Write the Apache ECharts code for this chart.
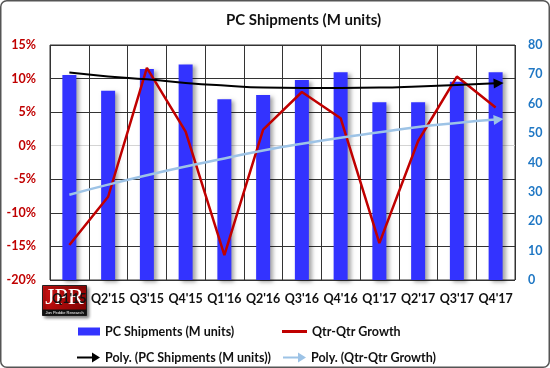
<!DOCTYPE html>
<html>
<head>
<meta charset="utf-8">
<script src="https://cdn.jsdelivr.net/npm/echarts@6/dist/echarts.min.js"></script>
<style>
html,body{margin:0;padding:0;background:#fff;}
#c{width:550px;height:368px;}
</style>
</head>
<body>
<div id="c"></div>
<script>
const categories = ["Q1'15", "Q2'15", "Q3'15", "Q4'15", "Q1'16", "Q2'16", "Q3'16", "Q4'16", "Q1'17", "Q2'17", "Q3'17", "Q4'17"];
const shipments = [69.8, 64.4, 71.8, 73.4, 61.5, 63.0, 68.1, 70.7, 60.5, 60.5, 67.5, 70.7];
const growth = [-14.8, -7.6, 11.6, 2.1, -16.3, 2.4, 8.0, 4.1, -14.5, 0.7, 10.3, 5.7];
const shipTrend = [70.6, 69.3, 68.3, 67.1, 66.2, 65.5, 65.4, 65.4, 65.5, 65.9, 66.4, 67.0];
const growthTrend = [-7.3, -5.8, -4.4, -3.1, -1.9, -0.7, 0.3, 1.2, 2.0, 2.8, 3.4, 3.9];
const leftTicks = {min: -20, max: 15, interval: 5};
const rightTicks = {min: 0, max: 80, interval: 10};

const FONT = 'Lato';
const arrowIcon = 'path://M0,4L15,4L15,0L23,5L15,10L15,6L0,6Z';

function withArrow(arr, rot) {
  return arr.map((v, i) => i === arr.length - 1
    ? {value: v, symbol: 'triangle', symbolSize: [10, 10], symbolRotate: rot, symbolOffset: [3, 0]}
    : v);
}

const chart = echarts.init(document.getElementById('c'), null, {renderer: 'canvas'});
const legendText = {fontFamily: FONT, fontSize: 12.5, fontWeight: 'bold', color: '#111'};
chart.setOption({
  animation: false,
  backgroundColor: '#fff',
  title: {
    text: 'PC Shipments (M units)',
    left: 221, top: 8,
    textStyle: {fontFamily: FONT, fontSize: 15, fontWeight: 'bold', color: '#111'}
  },
  grid: {left: 50, right: 35, top: 45, bottom: 88, show: true, borderColor: '#333', borderWidth: 1},
  legend: [
    {data: [{name: 'PC Shipments (M units)', icon: 'rect'}], left: 73, top: 320, itemWidth: 22, itemHeight: 8, itemGap: 4, textStyle: legendText, selectedMode: false},
    {data: [{name: 'Qtr-Qtr Growth', icon: 'rect'}], left: 277, top: 320, itemWidth: 25, itemHeight: 3, textStyle: legendText, selectedMode: false},
    {data: [{name: 'Poly. (PC Shipments (M units))', icon: arrowIcon}], left: 72, top: 346, itemWidth: 23, itemHeight: 10, textStyle: legendText, selectedMode: false},
    {data: [{name: 'Poly. (Qtr-Qtr Growth)', icon: arrowIcon}], left: 278, top: 346, itemWidth: 23, itemHeight: 10, textStyle: legendText, selectedMode: false}
  ],
  xAxis: {
    type: 'category',
    data: categories,
    boundaryGap: true,
    axisLine: {show: false},
    axisTick: {show: false},
    axisLabel: {fontFamily: FONT, fontSize: 12.5, fontWeight: 'bold', color: '#111', margin: 12, interval: 0},
    splitLine: {show: true, interval: 0, lineStyle: {color: '#333', width: 1}}
  },
  yAxis: [
    {
      type: 'value', min: leftTicks.min, max: leftTicks.max, interval: leftTicks.interval,
      axisLine: {show: false}, axisTick: {show: false},
      axisLabel: {formatter: '{value}%', fontFamily: FONT, fontSize: 12.5, fontWeight: 'bold', color: '#C00000', margin: 14},
      splitLine: {show: true, lineStyle: {color: ['#333', '#333', '#333', '#333', '#d4d4d4', '#333', '#333', '#333'], width: 1}}
    },
    {
      type: 'value', min: rightTicks.min, max: rightTicks.max, interval: rightTicks.interval,
      axisLine: {show: false}, axisTick: {show: false},
      axisLabel: {fontFamily: FONT, fontSize: 12.5, fontWeight: 'bold', color: '#1F77C4', margin: 13},
      splitLine: {show: false}
    }
  ],
  series: [
    {
      name: 'PC Shipments (M units)', type: 'bar', yAxisIndex: 1, data: shipments, barWidth: 14,
      itemStyle: {color: '#3333FF', shadowColor: 'rgba(0,0,0,0.35)', shadowBlur: 4, shadowOffsetX: 3, shadowOffsetY: 2},
      z: 2
    },
    {
      name: 'Qtr-Qtr Growth', type: 'line', yAxisIndex: 0, data: growth, symbol: 'none',
      itemStyle: {color: '#C00000'},
      lineStyle: {color: '#C00000', width: 2.5}, z: 3
    },
    {
      name: 'Poly. (PC Shipments (M units))', type: 'line', yAxisIndex: 1, data: withArrow(shipTrend, -87), symbol: 'none', showSymbol: true,
      smooth: true, itemStyle: {color: '#000'}, lineStyle: {color: '#000', width: 2}, z: 4
    },
    {
      name: 'Poly. (Qtr-Qtr Growth)', type: 'line', yAxisIndex: 0, data: withArrow(growthTrend, -85), symbol: 'none', showSymbol: true,
      smooth: true, itemStyle: {color: '#9DC3E6'}, lineStyle: {color: '#9DC3E6', width: 2.5}, z: 4
    }
  ],
  graphic: [
    {
      type: 'rect', shape: {x: 0.75, y: 0.75, width: 548.5, height: 366.5, r: 6},
      style: {fill: 'none', stroke: '#555', lineWidth: 1.5}, silent: true, z: 200
    },
    {
      type: 'group', left: 42, top: 285, z: 150,
      children: [
        {type: 'rect', shape: {x: 0, y: 0, width: 44, height: 30},
          style: {fill: new echarts.graphic.LinearGradient(0, 0, 1, 1, [{offset: 0, color: '#D41414'}, {offset: 1, color: '#7A0000'}]), stroke: '#222', lineWidth: 1,
            shadowColor: 'rgba(0,0,0,0.5)', shadowBlur: 3, shadowOffsetX: 2, shadowOffsetY: 2}},
        {type: 'rect', shape: {x: 0, y: 24, width: 44, height: 6}, style: {fill: '#111'}},
        {type: 'text', x: 22, y: 12, style: {text: 'JPR', fill: '#fff', font: '24px "Liberation Serif", "DejaVu Serif", serif', align: 'center', verticalAlign: 'middle'}},
        {type: 'text', x: 22, y: 27, style: {text: 'Jon Peddie Research', fill: '#fff', font: '4px "Liberation Sans", sans-serif', align: 'center', verticalAlign: 'middle'}}
      ]
    }
  ]
});
</script>
</body>
</html>
